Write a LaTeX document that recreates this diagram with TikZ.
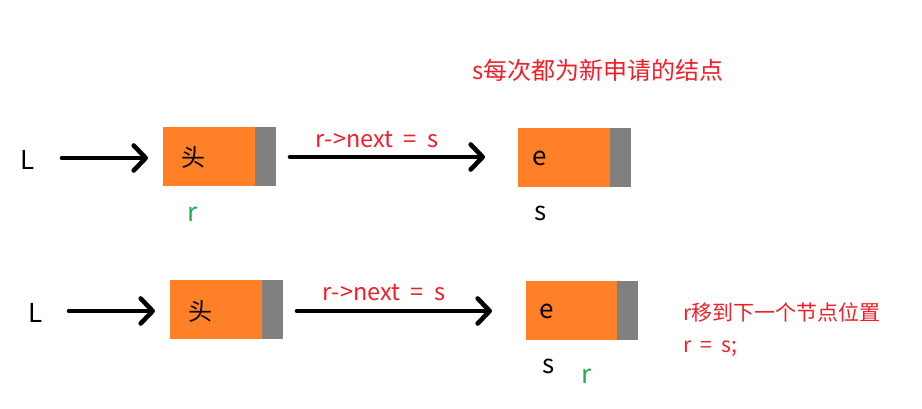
\documentclass[tikz,border=0pt]{standalone}
\usepackage{fontspec}
\setmainfont{Noto Sans CJK SC}
\usetikzlibrary{arrows.meta}
\definecolor{nodeorange}{RGB}{255,128,39}
\definecolor{nodegray}{RGB}{128,128,128}
\definecolor{txtred}{RGB}{240,30,40}
\definecolor{txtgreen}{RGB}{30,176,80}
\newcommand{\wsp}{\hspace{0.45em}}
\tikzset{
  databox/.style={fill=nodeorange, draw=none, minimum width=92pt, minimum height=59pt, inner sep=0pt, anchor=north west},
  ptrbox/.style={fill=nodegray, draw=none, minimum width=21pt, minimum height=59pt, inner sep=0pt, anchor=north west},
  bigarrow/.style={line width=4.6pt, line cap=round, -{Straight Barb[length=12pt, width=25pt, line cap=round, line join=round]}},
  lbl/.style={font=\fontsize{26}{28}\selectfont, inner sep=0pt},
  cjklbl/.style={font=\fontsize{24}{26}\selectfont, inner sep=0pt},
  redlbl/.style={font=\fontsize{23.5}{25}\selectfont, text=txtred, inner sep=0pt},
  smallred/.style={font=\fontsize{21}{23}\selectfont, text=txtred, inner sep=0pt, anchor=west},
}
\begin{document}
\begin{tikzpicture}[x=1pt, y=-1pt]
\useasboundingbox (0,0) rectangle (922,409);
% title
\node[font=\fontsize{24}{26}\selectfont, text=txtred, inner sep=0pt] (title) at (598,70) {s每次都为新申请的结点};
% row 1
\node[lbl] (L1) at (28,160) {L};
\node[databox] (h1) at (163,127) {};
\node[ptrbox] (p1) at (255,127) {};
\node[cjklbl] (t1) at (193,157) {头};
\node[lbl, text=txtgreen] (r1) at (193,214) {r};
\node[databox] (e1) at (518,128) {};
\node[ptrbox] (q1) at (610,128) {};
\node[lbl] (te1) at (540,158) {e};
\node[lbl] (s1) at (541,213) {s};
\coordinate (a1s) at (62,158);
\coordinate (a1e) at (148,158);
\draw[bigarrow] (a1s) -- (a1e);
\coordinate (b1s) at (290,157);
\coordinate (b1e) at (485,157);
\draw[bigarrow] (b1s) -- (b1e);
\node[redlbl] (n1) at (377,139) {r-\kern1pt>next\wsp=\wsp s};
% row 2
\node[lbl] (L2) at (36,313) {L};
\node[databox] (h2) at (170,280) {};
\node[ptrbox] (p2) at (262,280) {};
\node[cjklbl] (t2) at (200,311) {头};
\node[databox] (e2) at (526,281) {};
\node[ptrbox] (q2) at (617,281) {};
\node[lbl] (te2) at (547,311) {e};
\node[lbl] (s2) at (549,366) {s};
\node[lbl, text=txtgreen] (r2) at (587,376) {r};
\coordinate (a2s) at (69,311);
\coordinate (a2e) at (155,311);
\draw[bigarrow] (a2s) -- (a2e);
\coordinate (b2s) at (297,311);
\coordinate (b2e) at (492,311);
\draw[bigarrow] (b2s) -- (b2e);
\node[redlbl] (n2) at (384,292) {r-\kern1pt>next\wsp=\wsp s};
\node[smallred] (m1) at (683,312) {r移到下一个节点位置};
\node[smallred] (m2) at (683,349) {r\wsp=\wsp s;};
\end{tikzpicture}
\end{document}
